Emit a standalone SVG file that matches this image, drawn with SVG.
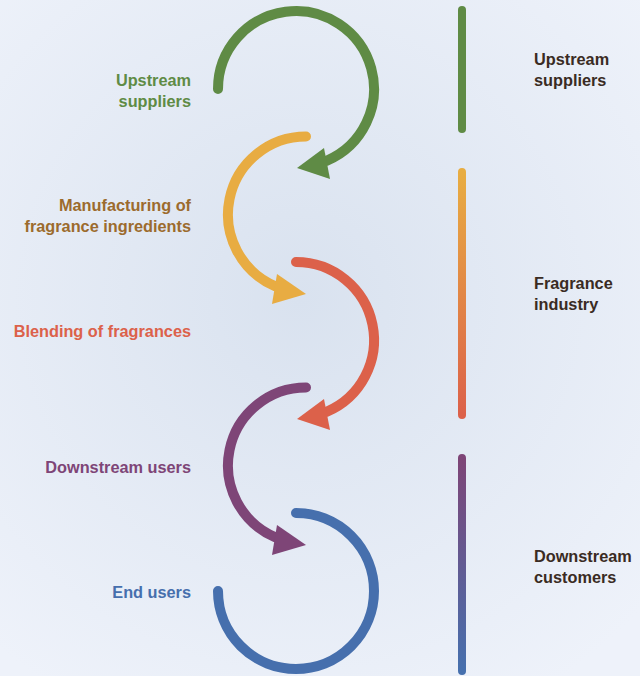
<svg xmlns="http://www.w3.org/2000/svg" width="640" height="676" viewBox="0 0 640 676">
<defs>
<radialGradient id="bg" cx="300" cy="300" r="460" gradientUnits="userSpaceOnUse">
<stop offset="0" stop-color="#d9e2ef"/>
<stop offset="1" stop-color="#eef2fa"/>
</radialGradient>
<linearGradient id="gFrag" x1="0" y1="172" x2="0" y2="415" gradientUnits="userSpaceOnUse">
<stop offset="0" stop-color="#e8ad42"/>
<stop offset="1" stop-color="#dc614a"/>
</linearGradient>
<linearGradient id="gDown" x1="0" y1="458" x2="0" y2="671" gradientUnits="userSpaceOnUse">
<stop offset="0" stop-color="#7e4577"/>
<stop offset="1" stop-color="#4670ae"/>
</linearGradient>
<style>
.arc{fill:none;stroke-width:10;stroke-linecap:round}
.bar{fill:none;stroke-width:8;stroke-linecap:round}
.lbl{font-family:"Liberation Sans",Arial,sans-serif;font-weight:700;font-size:16.3px;text-anchor:end}
.rlbl{font-family:"Liberation Sans",Arial,sans-serif;font-weight:700;font-size:16.3px;fill:#3a2b23}
</style>
</defs>
<rect width="640" height="676" fill="url(#bg)"/>
<g id="connectors">
<path class="arc" stroke="#5f8b45" d="M218 89 A78 78 0 1 1 326.5 160.8"/>
<polygon fill="#5f8b45" points="297,168 324,148 330,179"/>
<path class="arc" stroke="#e8ac42" d="M306 136.5 A78 78 0 0 0 275.5 286.3"/>
<polygon fill="#e8ac42" points="306,294 277,274 272,304"/>
<path class="arc" stroke="#dc614a" d="M296 262 A78 78 0 0 1 326.5 411.8"/>
<polygon fill="#dc614a" points="297,419 324,399 330,430"/>
<path class="arc" stroke="#7e4577" d="M306 387.5 A78 78 0 0 0 275.5 537.3"/>
<polygon fill="#7e4577" points="306,545 277,525 272,555"/>
<path class="arc" stroke="#466fad" d="M296 513 A78 78 0 1 1 218 591"/>
</g>
<g id="upstream-suppliers"><text class="lbl" fill="#5f8b45" x="191" y="86">Upstream</text><text class="lbl" fill="#5f8b45" x="191" y="107">suppliers</text></g>
<g id="manufacturing"><text class="lbl" fill="#9c6b2d" x="191" y="211">Manufacturing of</text><text class="lbl" fill="#9c6b2d" x="191" y="232">fragrance ingredients</text></g>
<g id="blending"><text class="lbl" fill="#dc614a" x="191" y="337">Blending of fragrances</text></g>
<g id="downstream-users"><text class="lbl" fill="#7e4577" x="191" y="473">Downstream users</text></g>
<g id="end-users"><text class="lbl" fill="#466fad" x="191" y="598">End users</text></g>
<g id="stage-upstream"><line class="bar" stroke="#5f8b45" x1="462" y1="10" x2="462" y2="129"/><text class="rlbl" x="534" y="65">Upstream</text><text class="rlbl" x="534" y="86">suppliers</text></g>
<g id="stage-fragrance"><line class="bar" stroke="url(#gFrag)" x1="462" y1="172" x2="462.01" y2="415"/><text class="rlbl" x="534" y="289">Fragrance</text><text class="rlbl" x="534" y="310">industry</text></g>
<g id="stage-downstream"><line class="bar" stroke="url(#gDown)" x1="462" y1="458" x2="462.01" y2="671"/><text class="rlbl" x="534" y="562">Downstream</text><text class="rlbl" x="534" y="583">customers</text></g>
</svg>
